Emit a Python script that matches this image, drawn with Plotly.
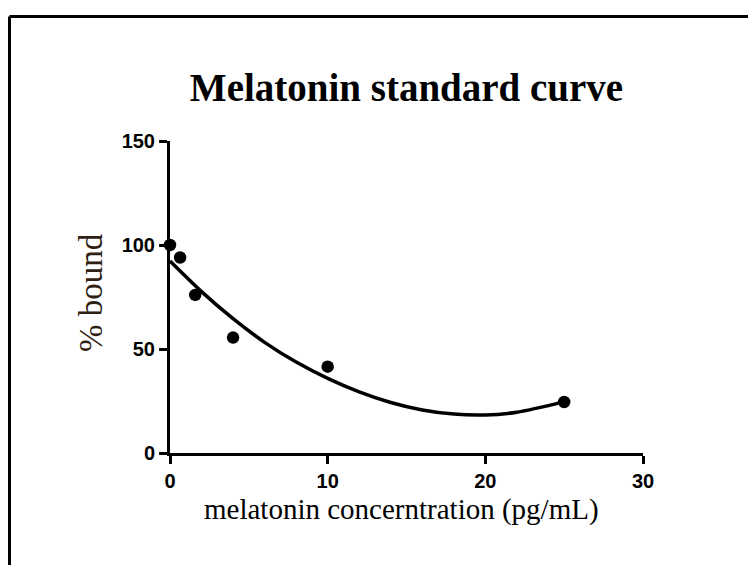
import plotly.graph_objects as go

# Melatonin standards: concentration (pg/mL) and % bound
conc = [0, 0.64, 1.6, 4, 10, 25]
pct_bound = [100, 94, 76, 55.5, 41.5, 24.5]

# Fitted standard curve (second-order polynomial), sampled along x
curve_x = [0, 2, 4, 6, 8, 10, 12, 14, 16, 18, 20, 22, 24, 25]
curve_y = [92.3, 77.6, 64.6, 53.2, 43.7, 35.9, 29.4, 24.3, 20.7, 18.7, 18.3, 19.6, 22.8, 24.7]

x_ticks = [0, 10, 20, 30]
y_ticks = [0, 50, 100, 150]

W, H = 748, 565
ML, MR, MT, MB = 170, 105, 141, 112
PW, PH = W - ML - MR, H - MT - MB


def px_to_paper_x(px):
    return (px - ML) / PW


def px_to_paper_y(py):
    return (H - MB - py) / PH


fig = go.Figure()

fig.add_trace(go.Scatter(
    x=curve_x, y=curve_y, mode="lines",
    line=dict(color="black", width=3.5, shape="spline", smoothing=0.8),
    hoverinfo="skip", showlegend=False,
))

fig.add_trace(go.Scatter(
    x=conc, y=pct_bound, mode="markers",
    marker=dict(color="black", size=12.5, symbol="circle"),
    cliponaxis=False, showlegend=False,
))

axis_common = dict(
    showline=True, linecolor="black", linewidth=3,
    ticks="outside", ticklen=8, tickwidth=3, tickcolor="black",
    showgrid=False, zeroline=False,
    tickfont=dict(family="Liberation Sans, Arial", size=20, color="black", weight="bold"),
)

fig.update_xaxes(range=[0, 30], tickvals=x_ticks,
                 ticktext=[str(v) for v in x_ticks], **axis_common)
fig.update_yaxes(range=[0, 150], tickvals=y_ticks,
                 ticktext=[str(v) for v in y_ticks], **axis_common)

# Axis titles
fig.add_annotation(
    text="melatonin concerntration (pg/mL)", showarrow=False,
    xref="paper", yref="paper",
    x=px_to_paper_x(401), y=px_to_paper_y(509),
    xanchor="center", yanchor="middle",
    font=dict(family="Liberation Serif, Times New Roman", size=29, color="black"),
)
fig.add_annotation(
    text="% bound", showarrow=False, textangle=-90,
    xref="paper", yref="paper",
    x=px_to_paper_x(91), y=px_to_paper_y(293),
    xanchor="center", yanchor="middle",
    font=dict(family="Liberation Serif, Times New Roman", size=33, color="#2e2012"),
)

# Outer frame (top and left edges)
frame = dict(type="line", xref="paper", yref="paper",
             line=dict(color="black", width=3), layer="above")
fig.add_shape(x0=px_to_paper_x(9.5), x1=px_to_paper_x(W + 5),
              y0=px_to_paper_y(16.5), y1=px_to_paper_y(16.5), **frame)
fig.add_shape(x0=px_to_paper_x(9.5), x1=px_to_paper_x(9.5),
              y0=px_to_paper_y(16.5), y1=px_to_paper_y(H + 5), **frame)

fig.update_layout(
    width=W, height=H,
    margin=dict(l=ML, r=MR, t=MT, b=MB),
    paper_bgcolor="white", plot_bgcolor="white",
    title=dict(text="<b>Melatonin standard curve</b>",
               font=dict(family="Liberation Serif, Times New Roman", size=39, color="black"),
               x=0.5, xref="paper", xanchor="center",
               y=1 - 87 / H, yref="container", yanchor="middle"),
)

fig.write_html("out.html")
